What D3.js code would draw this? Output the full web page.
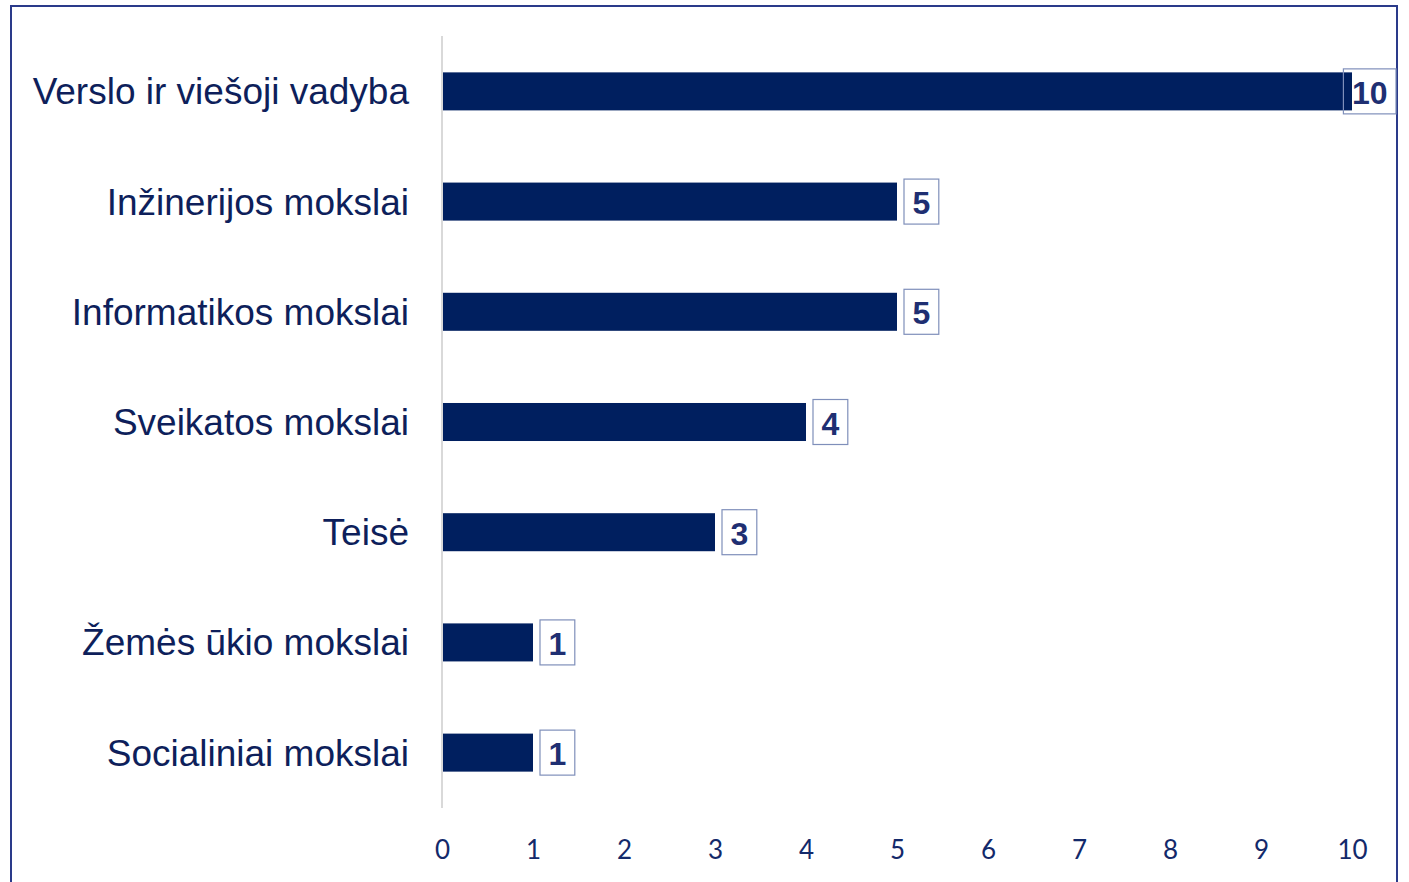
<!DOCTYPE html>
<html lang="lt">
<head>
<meta charset="utf-8">
<title>Studijų kryptys</title>
<script src="https://d3js.org/d3.v7.min.js"></script>
<style>
  body { margin: 0; background: #fff; }
  .cat text { font-family: 'Liberation Sans', Arial, sans-serif; font-size: 37px; fill: #0e1f5b; }
  .xaxis text { font-family: Lato, 'Open Sans', sans-serif; font-size: 26px; fill: #13296a; }
  .val { font-family: 'Liberation Sans', Arial, sans-serif; font-size: 32px; font-weight: bold; fill: #1f2f72; }
</style>
</head>
<body>
<script>
// chart data
const categories = ["Verslo ir viešoji vadyba", "Inžinerijos mokslai", "Informatikos mokslai",
                    "Sveikatos mokslai", "Teisė", "Žemės ūkio mokslai", "Socialiniai mokslai"];
const values = [10, 5, 5, 4, 3, 1, 1];
const tickValues = [0, 1, 2, 3, 4, 5, 6, 7, 8, 9, 10];

const W = 1409, H = 882;
const plotL = 442, plotR = 1352, plotT = 36, plotB = 808;

const svg = d3.select("body").append("svg")
  .attr("width", W).attr("height", H);

// outer frame
svg.append("rect")
  .attr("x", 11).attr("y", 6)
  .attr("width", 1386).attr("height", 900)
  .attr("fill", "none")
  .attr("stroke", "#2a3a8a")
  .attr("stroke-width", 2);

const x = d3.scaleLinear().domain([0, 10]).range([plotL, plotR]);
const y = d3.scaleBand().domain(categories).range([plotT, plotB]).paddingInner(0.655).paddingOuter(0.33);

// bars
svg.selectAll("rect.bar")
  .data(categories)
  .join("rect")
  .attr("class", "bar")
  .attr("x", x(0))
  .attr("y", d => y(d))
  .attr("width", (d, i) => x(values[i]) - x(0))
  .attr("height", y.bandwidth())
  .attr("fill", "#001f5f");

// vertical axis line
svg.append("line")
  .attr("x1", plotL).attr("x2", plotL)
  .attr("y1", plotT).attr("y2", plotB)
  .attr("stroke", "#d9d9d9")
  .attr("stroke-width", 2);

// category labels
const cat = svg.append("g").attr("class", "cat")
  .attr("transform", "translate(409,0)")
  .call(d3.axisLeft(y).tickSize(0).tickPadding(0));
cat.select(".domain").remove();
cat.selectAll("text").attr("dy", "0.35em");

// x tick labels
const xa = svg.append("g").attr("class", "xaxis")
  .attr("transform", "translate(0,850)")
  .call(d3.axisBottom(x).tickValues(tickValues).tickSize(0).tickPadding(0));
xa.select(".domain").remove();
xa.selectAll("text").attr("dy", "0.35em");

// value labels in boxes
const labels = svg.selectAll("g.lab")
  .data(categories)
  .join("g")
  .attr("class", "lab");

labels.each(function(d, i) {
  const g = d3.select(this);
  const cy = y(d) + y.bandwidth() / 2;
  const t = g.append("text")
    .attr("class", "val")
    .attr("text-anchor", "middle")
    .attr("y", cy + 1)
    .attr("dy", "0.36em")
    .text(values[i]);
  const tw = t.node().getComputedTextLength();
  const bw = tw + 17, bh = 45;
  let bx = x(values[i]) + 7;
  if (bx + bw > 1396) bx = 1396 - bw;
  t.attr("x", bx + bw / 2);
  g.insert("rect", "text")
    .attr("x", bx).attr("y", cy - bh / 2)
    .attr("width", bw).attr("height", bh)
    .attr("fill", "#fff")
    .attr("fill-opacity", 0)
    .attr("stroke", "#7f8fba")
    .attr("stroke-width", 1.2);
});
</script>
</body>
</html>
